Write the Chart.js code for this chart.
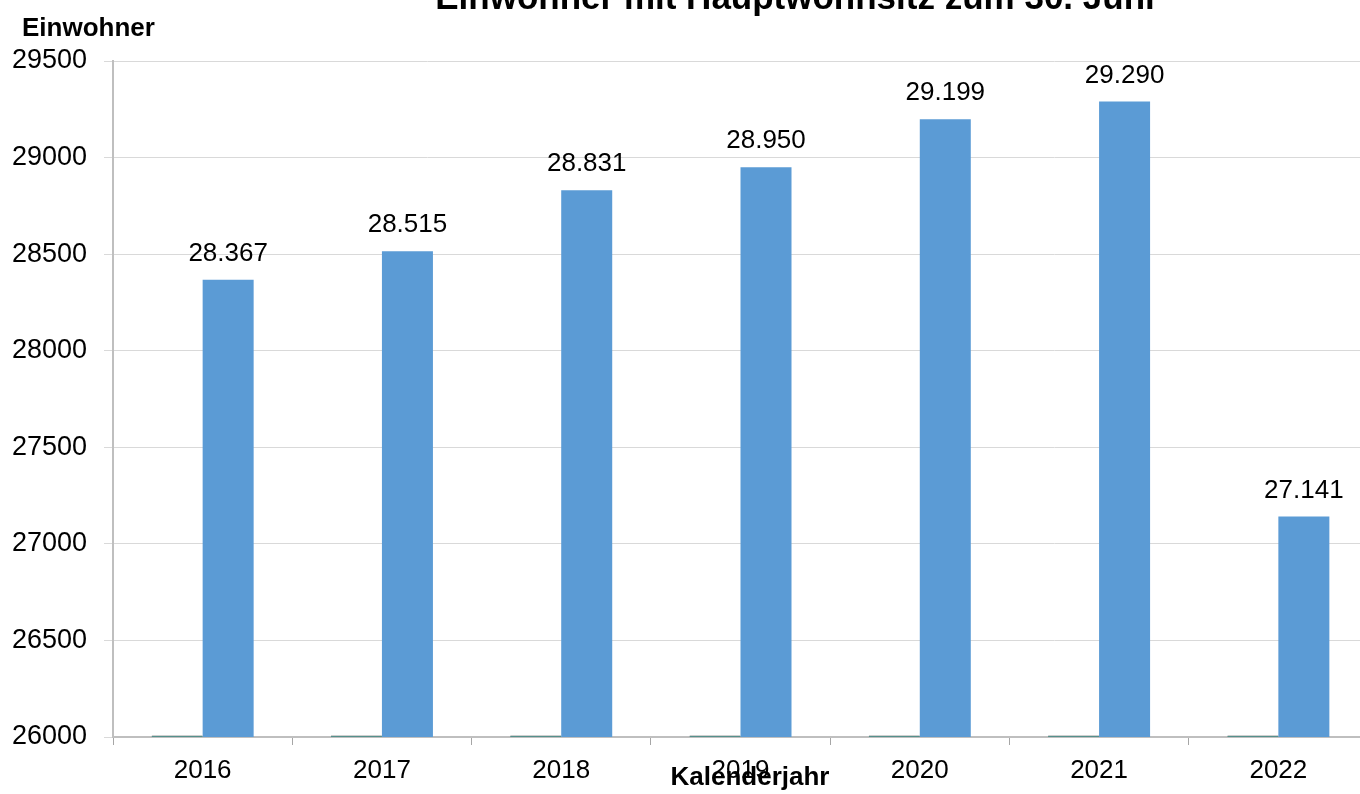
<!DOCTYPE html>
<html>
<head>
<meta charset="utf-8">
<script src="https://cdn.jsdelivr.net/npm/chart.js@4"></script>
<style>
html,body{margin:0;padding:0;background:#fff;overflow:hidden;width:1360px;height:794px;}
#wrap{position:absolute;left:0;top:0;width:1368px;height:794px;}
</style>
</head>
<body>
<div id="wrap"><canvas id="c" width="1368" height="794"></canvas></div>
<script>
const categories = ['2016','2017','2018','2019','2020','2021','2022'];
const seriesBase = [26008, 26008, 26008, 26008, 26008, 26008, 26008];
const seriesEinwohner = [28367, 28515, 28831, 28950, 29199, 29290, 27141];
const yTicks = [26000, 26500, 27000, 27500, 28000, 28500, 29000, 29500];
const titleText = 'Einwohner mit Hauptwohnsitz zum 30. Juni';
const yTitle = 'Einwohner';
const xTitle = 'Kalenderjahr';

const FONT = '"Liberation Sans", Arial, sans-serif';

function fmt(v){
  return String(v).replace(/\B(?=(\d{3})+(?!\d))/g, '.');
}

const textPlugin = {
  id: 'texts',
  afterDatasetsDraw(chart){
    const ctx = chart.ctx;
    ctx.save();
    const meta = chart.getDatasetMeta(1);
    ctx.font = '26px ' + FONT;
    ctx.fillStyle = '#000';
    ctx.textAlign = 'center';
    ctx.textBaseline = 'alphabetic';
    meta.data.forEach((bar, i) => {
      ctx.fillText(fmt(seriesEinwohner[i]), bar.x, bar.y - 19);
    });
    ctx.font = 'bold 35px ' + FONT;
    ctx.fillText(titleText, 795, 9);
    ctx.font = 'bold 26px ' + FONT;
    ctx.textAlign = 'left';
    ctx.fillText(yTitle, 22, 36);
    ctx.textAlign = 'center';
    ctx.fillText(xTitle, 750, 785);
    ctx.restore();
  }
};

new Chart(document.getElementById('c'), {
  type: 'bar',
  data: {
    labels: categories,
    datasets: [
      {
        data: seriesBase,
        backgroundColor: '#2aa198',
        borderColor: '#404040',
        borderWidth: {top: 1, left: 0, right: 0, bottom: 0},
        borderSkipped: false,
        categoryPercentage: 0.569,
        barPercentage: 1.0
      },
      {
        data: seriesEinwohner,
        backgroundColor: '#5b9bd5',
        borderWidth: 0,
        categoryPercentage: 0.569,
        barPercentage: 1.0
      }
    ]
  },
  options: {
    responsive: false,
    animation: false,
    devicePixelRatio: 1,
    layout: {padding: {top: 61, left: 0, right: 0, bottom: 0}},
    plugins: {legend: {display: false}, tooltip: {enabled: false}, title: {display: false}},
    scales: {
      x: {
        grid: {display: true, drawOnChartArea: false, drawTicks: true, tickLength: 8, color: '#a6a6a6', offset: true},
        border: {display: true, color: '#bfbfbf', width: 2},
        ticks: {font: {family: FONT, size: 26}, color: '#000', padding: 10, maxRotation: 0},
        afterFit(s){ s.height = 57; }
      },
      y: {
        min: 26000,
        max: 29500,
        afterBuildTicks(s){ s.ticks = yTicks.map(v => ({value: v})); },
        grid: {color: '#d9d9d9', lineWidth: 1, tickLength: 9, drawTicks: true},
        border: {display: true, color: '#bfbfbf', width: 2},
        ticks: {font: {family: FONT, size: 27}, color: '#000', padding: 17, callback: (v) => String(v)},
        afterFit(s){ s.width = 113; }
      }
    }
  },
  plugins: [textPlugin]
});
</script>
</body>
</html>
